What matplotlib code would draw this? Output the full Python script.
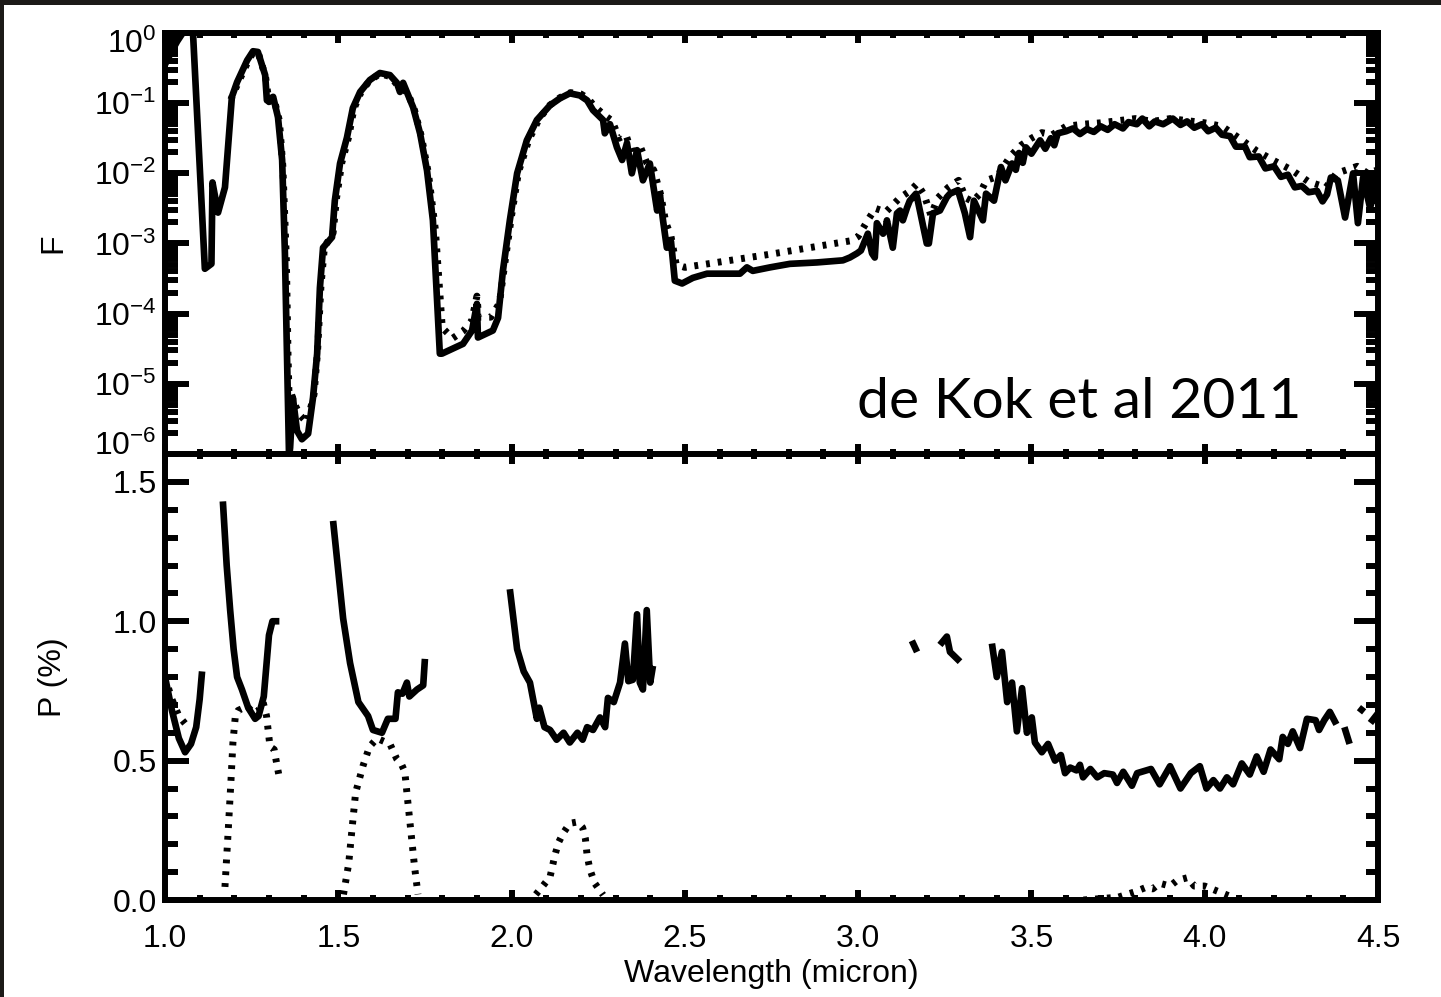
import numpy as np
import matplotlib
matplotlib.use('Agg')
import matplotlib.pyplot as plt
from matplotlib.ticker import FixedLocator, FixedFormatter, MultipleLocator, NullFormatter
from matplotlib.patches import Rectangle
from matplotlib.transforms import ScaledTranslation

nan = np.nan

# ---------------- data ----------------
f_solid_wl = [1.000, 1.015, 1.035, 1.055, 1.070, 1.081, 1.115, 1.134, 1.137, 1.153,
              1.173, 1.193, 1.208, 1.237, 1.254, 1.268, 1.289, 1.294, 1.312, 1.326,
              1.338, 1.346, 1.352, 1.358, 1.361, 1.369, 1.381, 1.395, 1.413, 1.427,
              1.439, 1.447, 1.456, 1.482, 1.490, 1.505, 1.525, 1.542, 1.563, 1.591,
              1.620, 1.649, 1.669, 1.678, 1.687, 1.716, 1.736, 1.756, 1.773, 1.793,
              1.799, 1.860, 1.886, 1.900, 1.903, 1.946, 1.961, 1.975, 1.995, 2.016,
              2.044, 2.073, 2.111, 2.140, 2.168, 2.197, 2.218, 2.235, 2.264, 2.269,
              2.284, 2.304, 2.319, 2.333, 2.347, 2.362, 2.379, 2.399, 2.420, 2.428,
              2.437, 2.448, 2.460, 2.471, 2.492, 2.523, 2.564, 2.610, 2.659, 2.679,
              2.696, 2.746, 2.803, 2.881, 2.956, 2.976, 2.997, 3.008, 3.028, 3.040,
              3.048, 3.054, 3.072, 3.080, 3.083, 3.100, 3.112, 3.121, 3.129, 3.141,
              3.149, 3.167, 3.170, 3.198, 3.204, 3.216, 3.236, 3.256, 3.265, 3.288,
              3.308, 3.323, 3.334, 3.360, 3.369, 3.392, 3.412, 3.425, 3.444, 3.455,
              3.464, 3.475, 3.484, 3.500, 3.516, 3.525, 3.540, 3.556, 3.566, 3.576,
              3.600, 3.620, 3.640, 3.660, 3.680, 3.700, 3.720, 3.740, 3.764, 3.780,
              3.804, 3.820, 3.840, 3.856, 3.880, 3.908, 3.930, 3.949, 3.970, 3.992,
              4.010, 4.032, 4.050, 4.073, 4.090, 4.116, 4.130, 4.156, 4.175, 4.200,
              4.220, 4.240, 4.260, 4.280, 4.300, 4.324, 4.340, 4.353, 4.364, 4.384,
              4.405, 4.428, 4.442, 4.457, 4.477, 4.500]
f_solid_log = [-0.45, -0.30, -0.12, 0.03, 0.05, -0.02, -3.36, -3.29, -2.13, -2.56,
               -2.20, -0.91, -0.70, -0.39, -0.26, -0.27, -0.60, -0.96, -0.91, -1.20,
               -1.81, -3.14, -4.57, -6.05, -5.91, -5.20, -5.67, -5.79, -5.71, -5.20,
               -4.57, -3.63, -3.06, -2.91, -2.39, -1.86, -1.49, -1.07, -0.84, -0.67,
               -0.57, -0.60, -0.71, -0.84, -0.71, -1.06, -1.43, -1.96, -2.67, -4.57,
               -4.57, -4.43, -4.24, -3.86, -4.34, -4.24, -4.06, -3.39, -2.67, -2.00,
               -1.53, -1.24, -1.03, -0.93, -0.86, -0.89, -0.96, -1.10, -1.24, -1.43,
               -1.30, -1.63, -1.81, -1.57, -2.00, -1.67, -2.10, -1.86, -2.53, -2.30,
               -2.67, -3.06, -2.97, -3.53, -3.57, -3.49, -3.43, -3.43, -3.43, -3.34,
               -3.39, -3.34, -3.29, -3.27, -3.24, -3.20, -3.14, -3.10, -2.86, -3.14,
               -3.20, -2.71, -2.86, -2.77, -2.67, -3.06, -2.57, -2.53, -2.67, -2.49,
               -2.39, -2.29, -2.34, -3.00, -3.00, -2.57, -2.53, -2.34, -2.29, -2.24,
               -2.57, -2.91, -2.39, -2.67, -2.29, -2.39, -1.91, -2.10, -1.86, -1.95,
               -1.71, -1.85, -1.63, -1.72, -1.60, -1.53, -1.65, -1.50, -1.60, -1.43,
               -1.40, -1.36, -1.44, -1.37, -1.41, -1.33, -1.38, -1.30, -1.36, -1.27,
               -1.30, -1.22, -1.33, -1.26, -1.30, -1.22, -1.31, -1.26, -1.35, -1.30,
               -1.40, -1.35, -1.45, -1.47, -1.62, -1.62, -1.77, -1.76, -1.93, -1.90,
               -2.05, -2.02, -2.20, -2.18, -2.27, -2.25, -2.40, -2.30, -2.06, -2.10,
               -2.63, -2.00, -2.71, -2.06, -2.49, -2.10]

f_dot_wl = [1.190, 1.210, 1.240, 1.255, 1.270, 1.290,
            1.300, 1.315, 1.330, 1.340, 1.350, 1.355, 1.360, 1.365, 1.375, 1.390,
            1.410, 1.430, 1.440, 1.450, 1.460, 1.485, 1.495, 1.510, 1.530, 1.545,
            1.565, 1.590, 1.620, 1.650, 1.670, 1.685, 1.700, 1.720, 1.740, 1.760,
            1.780, 1.800, 1.830, 1.860, 1.885, 1.900, 1.905, 1.940, 1.965, 1.980,
            2.000, 2.020, 2.050, 2.080, 2.110, 2.140, 2.170, 2.200, 2.220, 2.240,
            2.270, 2.290, 2.310, 2.330, 2.350, 2.370, 2.390, 2.410, 2.430, 2.445,
            2.460, 2.475, 2.500, 2.750, 2.980, 3.000, 3.030, 3.050, 3.080, 3.100,
            3.120, 3.150, 3.170, 3.190, 3.210, 3.230, 3.260, 3.290, 3.310, 3.330,
            3.350, 3.370, 3.400, 3.440, 3.470, 3.500, 3.530, 3.560, 3.600, 3.650,
            3.700, 3.750, 3.800, 3.850, 3.900, 3.950, 4.000, 4.050, 4.100, 4.150,
            4.200, 4.250, 4.300, 4.350, 4.380, 4.410, 4.440, 4.470, 4.500]
f_dot_log = [-0.95, -0.72, -0.40, -0.27, -0.30, -0.62,
             -0.98, -0.95, -1.25, -1.90, -3.20, -4.60, -5.60, -5.15, -5.30, -5.45,
             -5.55, -5.15, -4.55, -3.60, -3.05, -2.85, -2.35, -1.85, -1.48, -1.08,
             -0.85, -0.68, -0.58, -0.62, -0.74, -0.80, -0.85, -1.10, -1.48, -2.00,
             -2.80, -4.20, -4.35, -4.25, -4.10, -3.75, -4.05, -4.05, -3.85, -3.30,
             -2.60, -1.98, -1.52, -1.22, -1.03, -0.92, -0.85, -0.87, -0.93, -1.05,
             -1.18, -1.25, -1.50, -1.45, -1.75, -1.60, -1.85, -1.95, -2.30, -2.70,
             -2.90, -3.30, -3.34, -3.15, -2.96, -2.90, -2.65, -2.50, -2.55, -2.45,
             -2.35, -2.25, -2.15, -2.30, -2.60, -2.35, -2.20, -2.10, -2.35, -2.40,
             -2.30, -2.10, -2.05, -1.75, -1.60, -1.50, -1.42, -1.45, -1.33, -1.30,
             -1.28, -1.25, -1.22, -1.26, -1.22, -1.25, -1.28, -1.33, -1.50, -1.68,
             -1.82, -1.95, -2.12, -2.20, -2.00, -1.95, -1.90, -2.00, -1.95]

p_solid_wl = [1.000, 1.020, 1.040, 1.058, 1.075, 1.090, 1.100, 1.107, nan,
              1.167, 1.178, 1.188, 1.198, 1.208, 1.222, 1.240, 1.260, 1.270, 1.285,
              1.300, 1.310, 1.330, nan,
              1.485, 1.500, 1.514, 1.534, 1.558, 1.586, 1.600, 1.626, 1.643, 1.665,
              1.672, 1.685, 1.698, 1.705, 1.727, 1.745, 1.750, nan,
              1.995, 2.016, 2.035, 2.053, 2.073, 2.080, 2.095, 2.111, 2.130, 2.150,
              2.168, 2.190, 2.205, 2.218, 2.235, 2.255, 2.270, 2.278, 2.295, 2.313,
              2.327, 2.337, 2.350, 2.362, 2.370, 2.379, 2.390, 2.400, 2.408, nan,
              3.155, 3.170, nan,
              3.236, 3.256, 3.265, 3.294, nan,
              3.386, 3.400, 3.415, 3.430, 3.444, 3.458, 3.473, 3.487, 3.501, 3.510,
              3.530, 3.548, 3.568, 3.585, 3.597, 3.612, 3.630, 3.640, 3.649, 3.670,
              3.690, 3.710, 3.735, 3.747, 3.765, 3.790, 3.805, 3.845, 3.870, 3.900,
              3.930, 3.960, 3.986, 4.005, 4.025, 4.044, 4.064, 4.082, 4.107, 4.130,
              4.150, 4.170, 4.190, 4.215, 4.225, 4.240, 4.254, 4.275, 4.295, 4.320,
              4.330, 4.345, 4.361, 4.380, nan,
              4.403, 4.418, nan,
              4.445, 4.460, nan,
              4.478, 4.500]
p_solid = [0.80, 0.68, 0.58, 0.53, 0.56, 0.62, 0.72, 0.82, nan,
           1.43, 1.20, 1.04, 0.90, 0.80, 0.755, 0.69, 0.65, 0.66, 0.73,
           0.95, 1.00, 1.00, nan,
           1.36, 1.18, 1.01, 0.85, 0.71, 0.66, 0.61, 0.60, 0.65, 0.65,
           0.745, 0.74, 0.78, 0.73, 0.755, 0.77, 0.865, nan,
           1.115, 0.90, 0.82, 0.78, 0.65, 0.69, 0.62, 0.61, 0.575, 0.60,
           0.565, 0.60, 0.575, 0.62, 0.61, 0.655, 0.62, 0.725, 0.71, 0.78,
           0.92, 0.785, 0.79, 1.025, 0.78, 0.755, 1.04, 0.78, 0.84, nan,
           0.93, 0.89, nan,
           0.915, 0.945, 0.89, 0.855, nan,
           0.92, 0.80, 0.89, 0.71, 0.78, 0.605, 0.76, 0.60, 0.655, 0.565,
           0.53, 0.56, 0.50, 0.52, 0.455, 0.475, 0.465, 0.485, 0.44, 0.47,
           0.44, 0.455, 0.45, 0.42, 0.46, 0.41, 0.455, 0.47, 0.415, 0.48,
           0.40, 0.455, 0.48, 0.40, 0.43, 0.40, 0.44, 0.415, 0.49, 0.45,
           0.515, 0.46, 0.54, 0.505, 0.585, 0.56, 0.605, 0.545, 0.65, 0.645,
           0.61, 0.645, 0.675, 0.63, nan,
           0.62, 0.56, nan,
           0.69, 0.675, nan,
           0.635, 0.67]

p_dot_wl = [1.000, 1.020, 1.040, 1.060, 1.075, nan,
            1.173, 1.182, 1.190, 1.196, 1.203, 1.211, 1.237, 1.255, 1.270, 1.283,
            1.293, 1.303, 1.315, 1.320, 1.332, nan,
            1.515, 1.530, 1.540, 1.550, 1.571, 1.590, 1.612, 1.630, 1.649, 1.669,
            1.683, 1.692, 1.700, 1.710, 1.720, 1.730, nan,
            2.070, 2.090, 2.111, 2.125, 2.135, 2.149, 2.168, 2.190, 2.205, 2.213,
            2.218, 2.226, 2.240, 2.264, nan,
            3.650, 3.750, 3.800, 3.830, 3.850, 3.870, 3.900, 3.920, 3.950, 3.970,
            4.000, 4.030, 4.060, 4.090]
p_dot = [0.80, 0.72, 0.66, 0.63, 0.62, nan,
         0.047, 0.24, 0.42, 0.565, 0.66, 0.68, 0.695, 0.67, 0.68, 0.71,
         0.66, 0.55, 0.54, 0.505, 0.425, nan,
         0.02, 0.13, 0.26, 0.385, 0.48, 0.55, 0.58, 0.57, 0.56, 0.505,
         0.485, 0.46, 0.36, 0.24, 0.12, 0.02, nan,
         0.02, 0.05, 0.083, 0.16, 0.205, 0.24, 0.275, 0.28, 0.26, 0.22,
         0.16, 0.11, 0.06, 0.018, nan,
         0.0, 0.01, 0.03, 0.045, 0.04, 0.06, 0.05, 0.07, 0.08, 0.05,
         0.05, 0.035, 0.02, 0.005]

x_ticks = [1.0, 1.5, 2.0, 2.5, 3.0, 3.5, 4.0, 4.5]
x_ticklabels = ['1.0', '1.5', '2.0', '2.5', '3.0', '3.5', '4.0', '4.5']
f_ticks = [1e0, 1e-1, 1e-2, 1e-3, 1e-4, 1e-5, 1e-6]
f_ticklabels = [r'$\mathregular{10^{0}}$', r'$\mathregular{10^{-1}}$', r'$\mathregular{10^{-2}}$',
                r'$\mathregular{10^{-3}}$', r'$\mathregular{10^{-4}}$', r'$\mathregular{10^{-5}}$',
                r'$\mathregular{10^{-6}}$']
p_ticks = [0.0, 0.5, 1.0, 1.5]
p_ticklabels = ['0.0', '0.5', '1.0', '1.5']

# ---------------- figure ----------------
plt.rcParams['font.family'] = ['Liberation Sans', 'DejaVu Sans']
plt.rcParams['mathtext.fontset'] = 'custom'
plt.rcParams['mathtext.rm'] = 'Liberation Sans'

W, H = 1441, 997
fig = plt.figure(figsize=(W / 100, H / 100), dpi=100)
fig.patch.set_facecolor('white')
dark = '#1c1a18'
fig.patches.append(Rectangle((0, 0), 4 / W, 1, transform=fig.transFigure,
                             facecolor=dark, edgecolor='none', zorder=0))
fig.patches.append(Rectangle((0, 1 - 5 / H), 1, 5 / H, transform=fig.transFigure,
                             facecolor=dark, edgecolor='none', zorder=0))

L, R = 165, 1378
top_t, mid, bot = 33, 454, 900
ax1 = fig.add_axes([L / W, 1 - mid / H, (R - L) / W, (mid - top_t) / H], zorder=2)
ax2 = fig.add_axes([L / W, 1 - bot / H, (R - L) / W, (bot - mid) / H], zorder=2)

solid_kw = dict(color='black', lw=4.8, solid_joinstyle='round', solid_capstyle='butt')
dot_kw = dict(color='black', lw=5.0, linestyle=(0, (0.55, 1.15)), dash_capstyle='butt')

f_solid = [10 ** v for v in f_solid_log]
f_dot = [10 ** v for v in f_dot_log]
ax1.plot(f_dot_wl, f_dot, **dot_kw)
ax1.plot(f_solid_wl, f_solid, **solid_kw)
ax1.set_yscale('log')
ax1.set_ylim(1e-6, 1e0)

ax2.plot(p_dot_wl, p_dot, **dot_kw)
ax2.plot(p_solid_wl, p_solid, **solid_kw)
ax2.set_ylim(0, 1.6)

fs = 23
for ax in (ax1, ax2):
    ax.set_xlim(1.0, 4.5)
    ax.xaxis.set_major_locator(FixedLocator(x_ticks))
    ax.xaxis.set_minor_locator(MultipleLocator(0.1))
    for s in ax.spines.values():
        s.set_linewidth(4.3)
    ax.tick_params(axis='both', which='both', direction='in', top=True, right=True,
                   width=4.3, labelsize=fs, colors='black')
    ax.tick_params(axis='y', which='major', length=17, pad=6)
    ax.tick_params(axis='y', which='minor', length=9)
    ax.tick_params(axis='x', which='major', length=7.5, pad=17)
    ax.tick_params(axis='x', which='minor', length=3.5)

ax1.xaxis.set_major_formatter(NullFormatter())
ax1.yaxis.set_major_locator(FixedLocator(f_ticks))
ax1.yaxis.set_major_formatter(FixedFormatter(f_ticklabels))
minor_f = [m * 10.0 ** e for e in range(-6, 0) for m in range(2, 10)]
ax1.yaxis.set_minor_locator(FixedLocator(minor_f))
ax1.yaxis.set_minor_formatter(NullFormatter())

ax2.xaxis.set_major_formatter(FixedFormatter(x_ticklabels))
ax2.yaxis.set_major_locator(FixedLocator(p_ticks))
ax2.yaxis.set_major_formatter(FixedFormatter(p_ticklabels))
ax2.yaxis.set_minor_locator(MultipleLocator(0.1))

# nudge the end labels of the log axis inside, as in the original
yt = ax1.yaxis.get_major_ticks()
yt[0].label1.set_transform(yt[0].label1.get_transform()
                           + ScaledTranslation(0, -6 / 72, fig.dpi_scale_trans))
yt[-1].label1.set_transform(yt[-1].label1.get_transform()
                            + ScaledTranslation(0, 8 / 72, fig.dpi_scale_trans))

ax2.set_xlabel('Wavelength (micron)', fontsize=fs, labelpad=4)
ax1.set_ylabel('F', fontsize=fs)
ax2.set_ylabel('P (%)', fontsize=fs)
lx = (68 - L) / (R - L)
ax1.yaxis.set_label_coords(lx, 0.5)
ax2.yaxis.set_label_coords(lx, 0.5)

fig.text(857 / W, 1 - 418 / H, 'de Kok et al 2011', fontsize=41,
         family=['Lato', 'DejaVu Sans'], ha='left', va='baseline', color='black')

fig.savefig('out.png', dpi=100, facecolor=fig.get_facecolor())
